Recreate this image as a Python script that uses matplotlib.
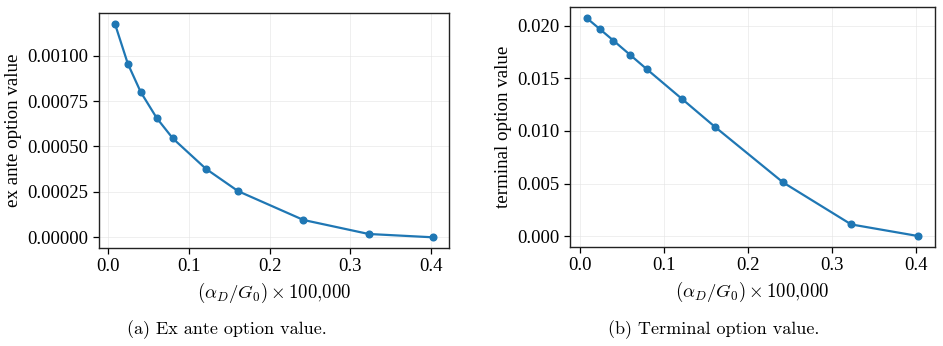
"""Ex ante and terminal option value against scaled alpha_D / G_0."""

import matplotlib
matplotlib.use("Agg")

import matplotlib.pyplot as plt
from matplotlib.ticker import FormatStrFormatter

# values
alpha_scaled = [0.008, 0.024, 0.040, 0.060, 0.080, 0.121, 0.161, 0.242, 0.323, 0.403]
ex_ante_value = [0.001176, 0.000956, 0.000800, 0.000656, 0.000544,
                 0.000377, 0.000254, 0.0000956, 0.0000184, 0.0]
terminal_value = [0.02076, 0.01968, 0.01860, 0.01723, 0.01586,
                  0.01309, 0.01038, 0.00510, 0.00111, 0.0]

ex_ante_ticks = [0.0, 0.00025, 0.0005, 0.00075, 0.001]
terminal_ticks = [0.0, 0.005, 0.010, 0.015, 0.020]
x_ticks = [0.0, 0.1, 0.2, 0.3, 0.4]

xlabel = r"$(\alpha_D/G_0) \times 100{,}000$"
panels = [
    (ex_ante_value, ex_ante_ticks, "%.5f", "ex ante option value", "(a) Ex ante option value."),
    (terminal_value, terminal_ticks, "%.3f", "terminal option value", "(b) Terminal option value."),
]

plt.rcParams["font.family"] = ["Liberation Serif", "DejaVu Serif"]
plt.rcParams["mathtext.fontset"] = "cm"

fig = plt.figure(figsize=(9.43, 3.46), dpi=100)
W, H = 943, 346
boxes = [(99, 13, 449, 248), (570, 7, 935, 247)]
caption_x = [227, 714]

for (vals, yt, fmt, ylab, cap), (x0, y0, x1, y1), cx in zip(panels, boxes, caption_x):
    ax = fig.add_axes([x0 / W, (H - y1) / H, (x1 - x0) / W, (y1 - y0) / H])
    ax.plot(alpha_scaled, vals, "-o", color="#1f77b4", lw=1.6, ms=4.8)
    ax.grid(True, color="#e4e4e4", lw=0.6, alpha=0.7)
    ax.set_axisbelow(True)
    for s in ax.spines.values():
        s.set_color("#222222")
        s.set_linewidth(1.0)
    ax.tick_params(direction="out", length=4, width=0.9, labelsize=13.5)
    ax.set_xticks(x_ticks)
    ax.set_yticks(yt)
    ax.yaxis.set_major_formatter(FormatStrFormatter(fmt))
    ax.set_xlabel(xlabel, fontsize=13.5, labelpad=4)
    ax.set_ylabel(ylab, fontsize=13.7)
    fig.text(cx / W, 1 - 330 / H, cap, ha="center", va="center",
             family="cmr10", fontsize=13)

fig.savefig("out.png", dpi=100)
